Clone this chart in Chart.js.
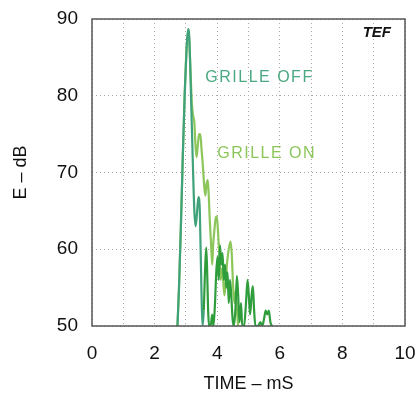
<!DOCTYPE html>
<html>
<head>
<meta charset="utf-8">
<script src="https://cdn.jsdelivr.net/npm/chart.js@4.4.0/dist/chart.umd.min.js"></script>
<style>
	html, body { margin: 0; padding: 0; background: #fff; }
	#wrap { width: 415px; height: 395px; }
</style>
</head>
<body>
<div id="wrap"><canvas id="tef" width="415" height="395"></canvas></div>
<script>
// time in mS, energy in dB
var offTime = [2.73, 2.78, 2.84, 2.90, 2.96, 3.02, 3.07, 3.11, 3.15, 3.19, 3.23, 3.27, 3.31, 3.35, 3.40, 3.44, 3.47, 3.50, 3.53,
	3.57, 3.61, 3.65, 3.68, 3.71, 3.74, 3.79, 3.84, 3.88, 3.93, 3.97, 4.01, 4.05, 4.09, 4.13, 4.17, 4.21, 4.25, 4.29, 4.33,
	4.37, 4.41, 4.45, 4.49, 4.53, 4.58, 4.63, 4.67, 4.71, 4.76, 4.80, 4.86, 4.92, 4.97, 5.01, 5.05, 5.10, 5.14, 5.18, 5.22,
	5.30, 5.38, 5.44, 5.50, 5.55, 5.60, 5.65, 5.70, 5.75];
var offDb = [50, 55, 63, 72, 80, 86, 88.7, 87.5, 82, 76, 70, 65, 63, 64.5, 66.8, 65.5, 60, 54, 50,
	52, 57, 60.2, 57, 52, 50, 50, 51.5, 50, 53, 57, 59, 56, 60.5, 58, 59.5, 56, 58, 55, 57,
	53, 56, 54, 51, 50, 52, 56.5, 54, 50.5, 53, 50, 50, 53, 56, 54, 51.5, 54, 55.2, 52, 50,
	50, 50.5, 50, 51, 52, 51.5, 52, 50.5, 50];

var onTime = [2.73, 2.78, 2.84, 2.90, 2.96, 3.02, 3.07, 3.11, 3.15, 3.19, 3.23, 3.27, 3.30, 3.34, 3.38, 3.42, 3.46, 3.50,
	3.54, 3.58, 3.62, 3.66, 3.70, 3.73, 3.76, 3.80, 3.84, 3.87, 3.91, 3.95, 3.99, 4.03, 4.07, 4.11, 4.15, 4.19, 4.23, 4.27,
	4.31, 4.35, 4.39, 4.43, 4.47, 4.51, 4.55, 4.59, 4.63, 4.67];
var onDb = [50, 55, 63, 72, 80, 86, 88.5, 87, 83, 79, 77.4, 76.5, 74, 72, 73.5, 75, 75, 73,
	71, 68.5, 67, 68.5, 69, 67, 64, 61, 58, 60.5, 62.5, 64, 64.3, 62, 59, 56, 57.5, 56, 54, 55.5,
	58, 59.5, 60.5, 61, 59, 55, 53, 54.5, 52, 50];

var seriesNames = ['GRILLE OFF', 'GRILLE ON'];
var xTicks = [0, 2, 4, 6, 8, 10];
var yTicks = [50, 60, 70, 80, 90];

var font = '"Liberation Sans", Arial, sans-serif';

function points(t, v) {
	return t.map(function (x, i) { return { x: x, y: v[i] }; });
}

/* frame and text notes drawn on the canvas */
var notes = {
	id: 'notes',
	afterDraw: function (chart) {
		var ctx = chart.ctx;
		var a = chart.chartArea;
		var sx = chart.scales.x, sy = chart.scales.y;
		ctx.save();
		ctx.strokeStyle = '#555';
		ctx.lineWidth = 1.5;
		ctx.strokeRect(a.left, a.top, a.right - a.left, a.bottom - a.top);
		ctx.font = 'italic bold 15px ' + font;
		ctx.fillStyle = '#111';
		ctx.textAlign = 'center';
		ctx.textBaseline = 'middle';
		ctx.fillText('TEF', sx.getPixelForValue(9.1), sy.getPixelForValue(88.2));
		ctx.font = '16px ' + font;
		ctx.letterSpacing = '1.5px';
		ctx.textAlign = 'left';
		ctx.fillStyle = '#4aa882';
		ctx.fillText(seriesNames[0], sx.getPixelForValue(3.62), sy.getPixelForValue(82.4));
		ctx.fillStyle = '#8cc65a';
		ctx.fillText(seriesNames[1], sx.getPixelForValue(4.0), sy.getPixelForValue(72.4));
		ctx.restore();
	}
};

new Chart(document.getElementById('tef'), {
	type: 'line',
	data: {
		datasets: [{
			label: seriesNames[0],
			data: points(offTime, offDb),
			borderColor: '#3fa27a',
			borderWidth: 2.2,
			pointRadius: 0,
			cubicInterpolationMode: 'monotone',
			fill: false,
			segment: {
				borderColor: function (c) { return c.p0.parsed.x >= 3.55 ? '#2f9d3c' : '#3fa27a'; }
			}
		}, {
			label: seriesNames[1],
			data: points(onTime, onDb),
			borderColor: '#8cc65a',
			borderWidth: 2.2,
			pointRadius: 0,
			cubicInterpolationMode: 'monotone',
			fill: false
		}]
	},
	options: {
		responsive: false,
		animation: false,
		layout: { padding: { top: 19, right: 10, left: 0, bottom: 0 } },
		plugins: { legend: { display: false }, tooltip: { enabled: false } },
		scales: {
			x: {
				type: 'linear',
				min: 0,
				max: 10,
				afterBuildTicks: function (s) {
					s.ticks = [];
					for (var i = 0; i <= 10; i++) s.ticks.push({ value: i });
				},
				afterFit: function (s) {
					s.height = 69;
					s.paddingLeft = 0;
					s.paddingRight = 0;
				},
				ticks: {
					padding: 16,
					maxRotation: 0,
					autoSkip: false,
					color: '#111',
					font: { family: font, size: 19 },
					callback: function (v) { return xTicks.indexOf(v) >= 0 ? String(v) : ''; }
				},
				grid: { color: '#aaa', lineWidth: 1, drawTicks: false },
				border: { display: false, dash: [1, 3] },
				title: {
					display: true,
					text: 'TIME \u2013 mS',
					color: '#111',
					font: { family: font, size: 18 },
					padding: { top: 9, bottom: 0 }
				}
			},
			y: {
				type: 'linear',
				min: 50,
				max: 90,
				afterBuildTicks: function (s) {
					s.ticks = yTicks.map(function (v) { return { value: v }; });
				},
				afterFit: function (s) {
					s.width = 92;
					s.paddingTop = 0;
					s.paddingBottom = 0;
				},
				ticks: {
					padding: 14,
					color: '#111',
					font: { family: font, size: 19 }
				},
				grid: { color: '#aaa', lineWidth: 1, drawTicks: false },
				border: { display: false, dash: [1, 3] },
				title: {
					display: true,
					text: 'E \u2013 dB',
					color: '#111',
					font: { family: font, size: 18 },
					padding: { top: 10, bottom: 0 }
				}
			}
		}
	},
	plugins: [notes]
});
</script>
</body>
</html>
